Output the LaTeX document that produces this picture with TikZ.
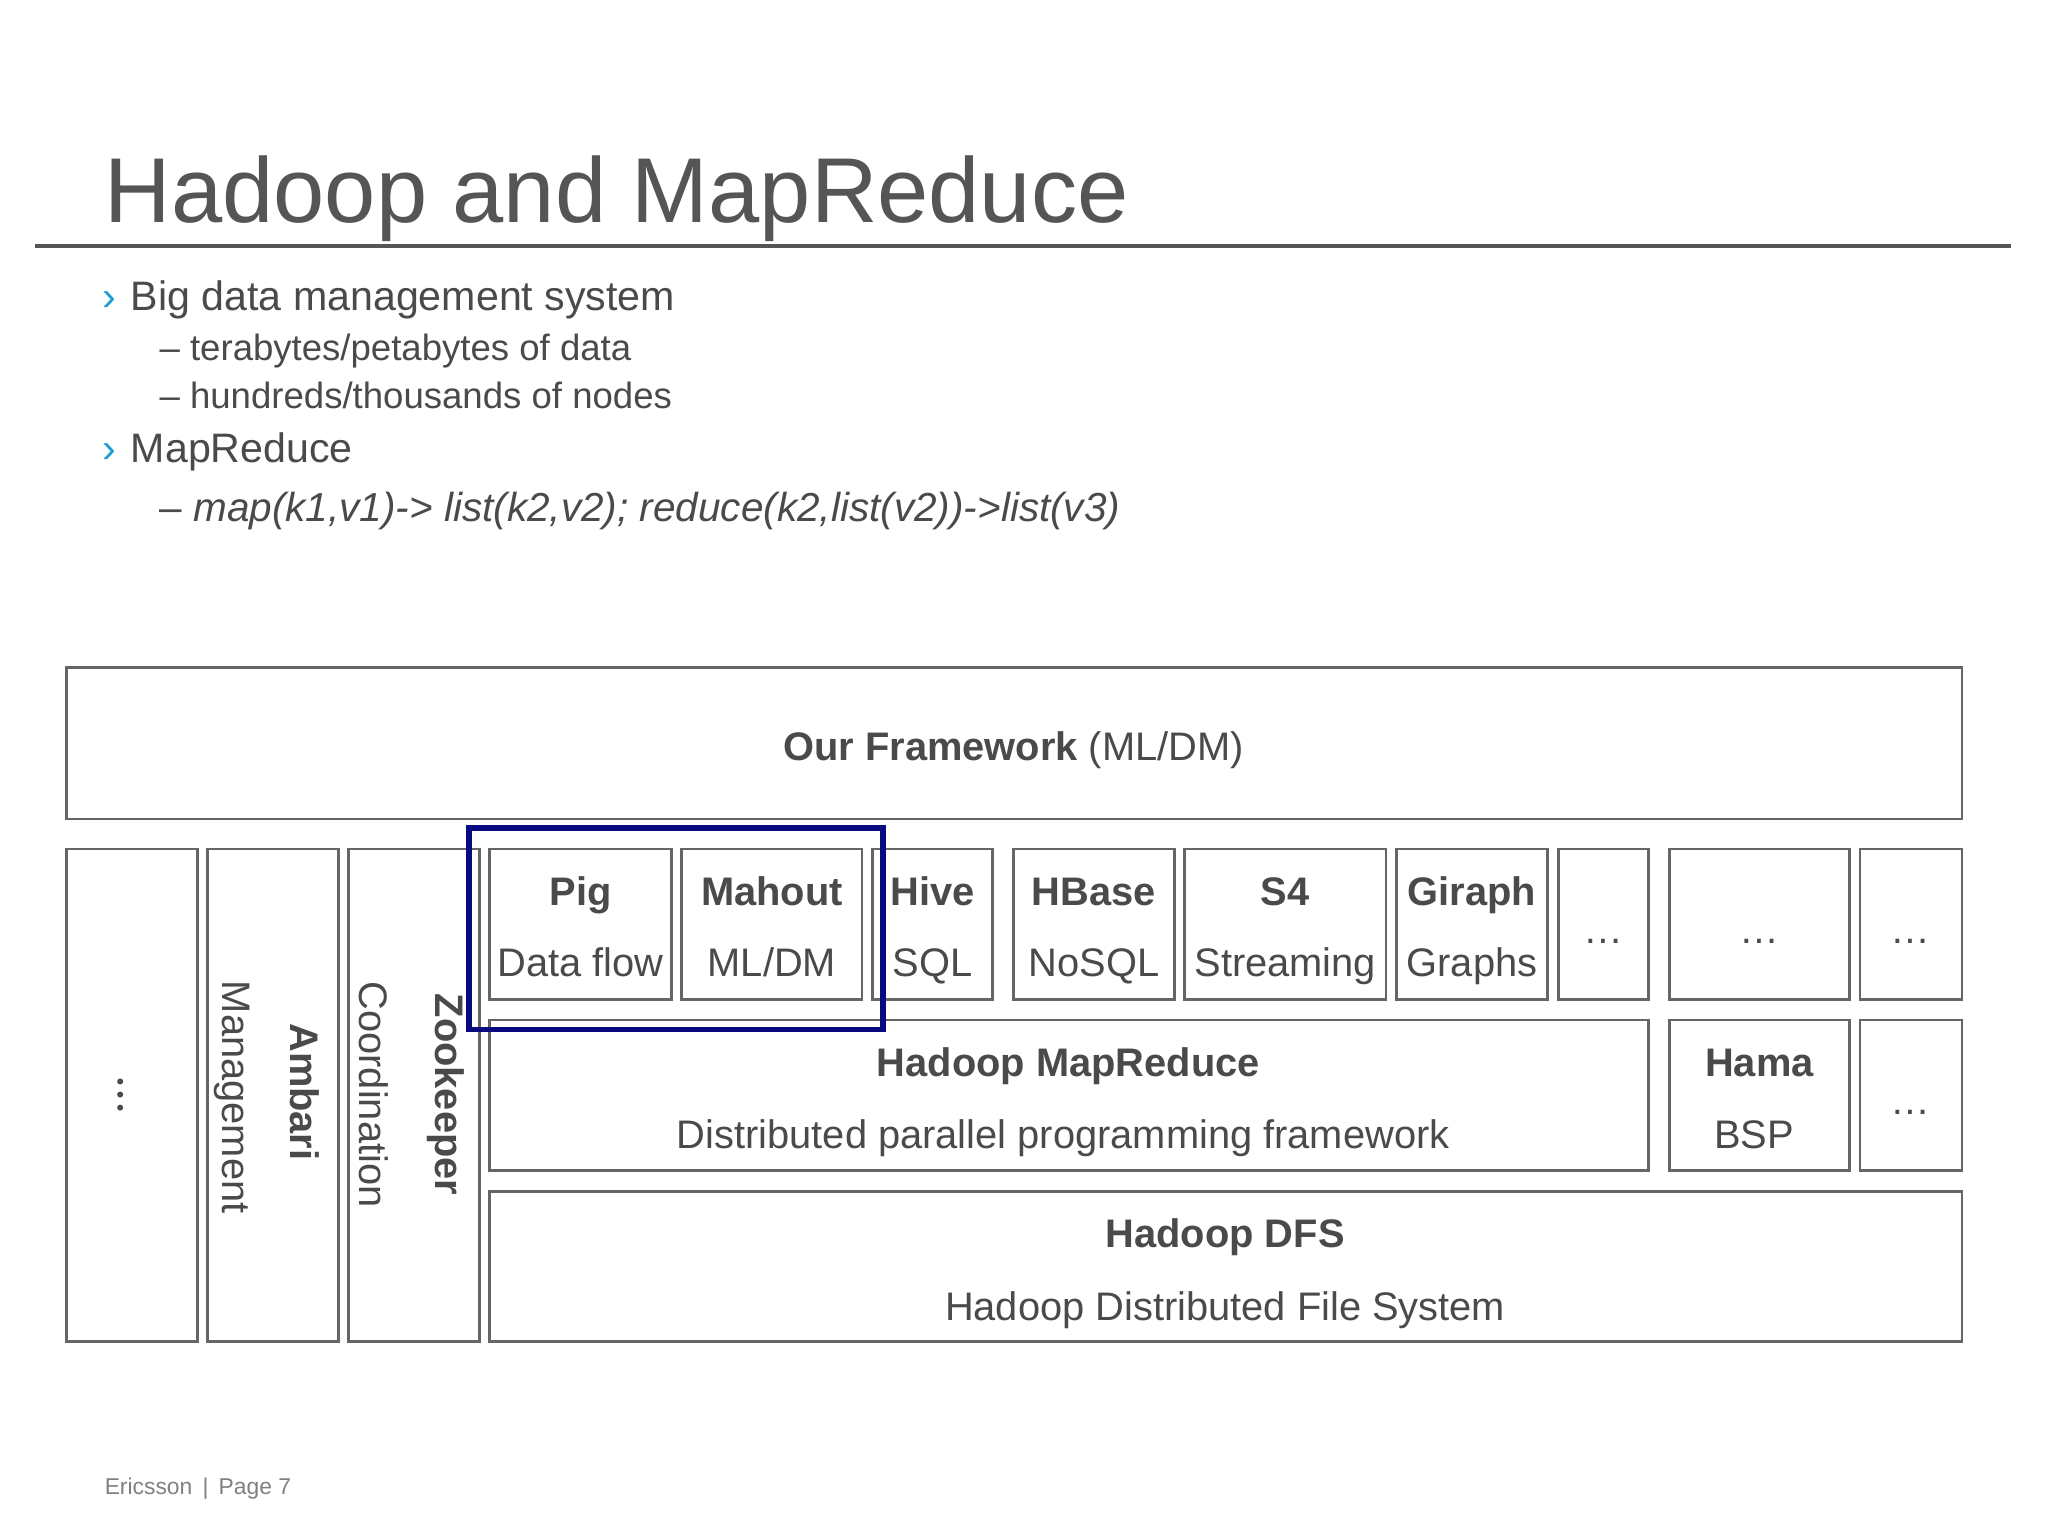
\documentclass[tikz,border=0pt]{standalone}
\usepackage{fontspec}
\setmainfont{Liberation Sans}
\definecolor{tg}{HTML}{555555}
\definecolor{bx}{HTML}{666666}
\definecolor{tx}{HTML}{4A4A4A}
\definecolor{bul}{HTML}{1A9FD0}
\definecolor{nv}{HTML}{0A0A80}
\begin{document}
\begin{tikzpicture}[x=1pt,y=-1pt,
  box/.style={draw=bx,line width=2pt},
  t/.style={text=tx,font=\fontsize{30.5}{36}\selectfont,inner sep=0,anchor=base},
  tb/.style={t,font=\fontsize{30.5}{36}\selectfont\bfseries},
  rt/.style={text=tx,font=\fontsize{30.5}{36}\selectfont,inner sep=0,rotate=-90},
  bt/.style={text=tx,anchor=base west,inner sep=0,font=\fontsize{31.5}{36}\selectfont},
  st/.style={text=tx,anchor=base west,inner sep=0,font=\fontsize{28}{32}\selectfont}]
\useasboundingbox[fill=white] (0,0) rectangle (1568,1176);
\node[anchor=base west,inner sep=0,text=tg,font=\fontsize{70.5}{80}\selectfont] (title) at (80,170) {Hadoop and MapReduce};
\draw[tg,line width=3pt] (27,188) coordinate (l1) -- (1540,188) coordinate (l2);
% bullets
\node[bt,text=bul] (b1) at (78,238) {›};
\node[bt] (t1) at (100,238) {Big data management system};
\node[st] (s1) at (122,276) {– terabytes/petabytes of data};
\node[st] (s2) at (122,313) {– hundreds/thousands of nodes};
\node[bt,text=bul] (b2) at (78,354) {›};
\node[bt] (t2) at (100,354) {MapReduce};
\node[st,font=\fontsize{31}{34}\selectfont] (s3) at (122,399) {– \textit{map(k1,v1)-> list(k2,v2); reduce(k2,list(v2))->list(v3)}};
% framework
\draw[box] (51,511) rectangle (1502,627);
\node[t] (fw) at (776,582) {\textbf{Our Framework} (ML/DM)};
% vertical boxes
\draw[box] (51,650) rectangle (151,1027);
\foreach \yy in {828,838,848}{\fill[tx] (92,\yy) circle (2.3pt);}
\draw[box] (159,650) rectangle (259,1027);
\node[rt,font=\fontsize{30.5}{36}\selectfont\bfseries] (amb) at (233,836) {Ambari};
\node[rt] (mgmt) at (178,840) {Management};
\draw[box] (267,650) rectangle (367,1027);
\node[rt,font=\fontsize{30.5}{36}\selectfont\bfseries] (zk) at (341,838) {Zookeeper};
\node[rt] (coord) at (286,838) {Coordination};
% top row
\foreach \a/\b/\ti/\su in {375/514/Pig/Data flow,522/660/Mahout/{ML/DM},668/760/Hive/SQL,776/899/HBase/NoSQL,907/1061/S4/Streaming,1069/1185/Giraph/Graphs}{
  \draw[box] (\a,650) rectangle (\b,765);
  \node[tb] at ({(\a+\b)/2},693) {\ti};
  \node[t] at ({(\a+\b)/2},748) {\su};
}
\foreach \a/\b in {1193/1262,1278/1416,1424/1502}{
  \draw[box] (\a,650) rectangle (\b,765);
  \node[t] at ({(\a+\b)/2},722) {\dots};
}
% mapreduce row
\draw[box] (375,781) rectangle (1262,896);
\node[tb] (hmr) at (818,824) {Hadoop MapReduce};
\node[t] (hmrs) at (814,879) {Distributed parallel programming framework};
\draw[box] (1278,781) rectangle (1416,896);
\node[tb] (hama) at (1347,824) {Hama};
\node[t] (bsp) at (1343,879) {BSP};
\draw[box] (1424,781) rectangle (1502,896);
\node[t] (d2) at (1463,853) {\dots};
% dfs
\draw[box] (375,912) rectangle (1502,1027);
\node[tb] (dfs) at (938,955) {Hadoop DFS};
\node[t] (dfss) at (938,1011) {Hadoop Distributed File System};
% highlight
\draw[nv,line width=4pt] (359,634) rectangle (676,788);
% footer
\node[anchor=base west,inner sep=0,text=gray,font=\fontsize{17.5}{20}\selectfont] (foot) at (80,1144) {Ericsson \,|\, Page 7};
\end{tikzpicture}
\end{document}
